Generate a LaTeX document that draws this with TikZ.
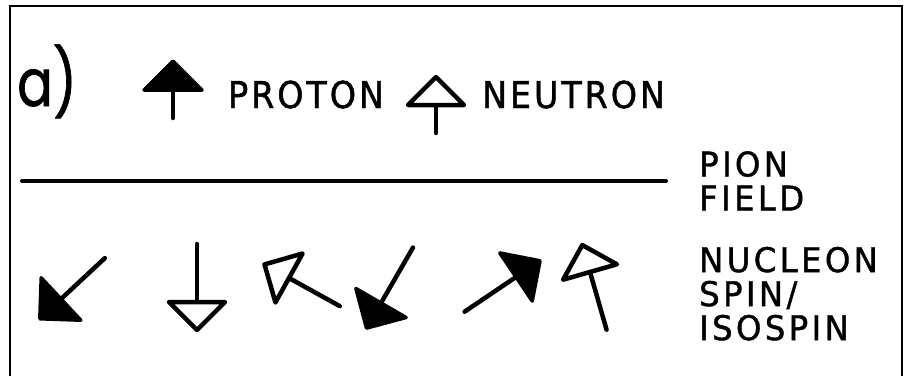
\documentclass[tikz,border=0pt]{standalone}
\usepackage{fontspec}
\setmainfont{DejaVu Sans}
\newfontfamily\letterfont{DejaVu Sans}[FakeStretch=0.9,FakeBold=1.2,LetterSpace=8]
\newfontfamily\sidefont{DejaVu Sans}[FakeStretch=0.95,FakeBold=1.2,LetterSpace=10]
\newfontfamily\partfont{Poppins}[FakeStretch=0.8,FakeBold=1]
\usetikzlibrary{positioning}
\tikzset{
  frameline/.style={line width=2pt},
  fieldline/.style={line width=4pt,line cap=round},
  spinline/.style={line width=4.5pt,line cap=round},
  fullhead/.style={line width=3.5pt,line join=round,fill=black},
  openhead/.style={line width=4.5pt,line join=round,fill=white},
  biglabel/.style={inner sep=0pt,font=\letterfont\fontsize{37}{37}\selectfont},
  sidelabel/.style={inner sep=0pt,align=left,font=\sidefont\fontsize{34}{34}\selectfont},
  pics/proton/.style={code={
    \draw[spinline] (0,0) -- (0,-#1);
    \draw[fullhead] (-29,0) -- (29,0) -- (0,29) -- cycle;
  }},
  pics/neutron/.style={code={
    \draw[spinline] (0,0) -- (0,-#1);
    \draw[openhead] (-28,0) -- (28,0) -- (0,28) -- cycle;
  }},
}

\begin{document}
\begin{tikzpicture}[x=1pt,y=1pt]
  \useasboundingbox (0,0) rectangle (907,376);
  \draw[frameline] (10,0) -- (10,370) -- (902,370) -- (902,0);
  \node[inner sep=0pt,anchor=base west,font=\partfont\fontsize{66}{66}\selectfont] (part) at (17,270) {a)};
  \pic at (173,286) {proton=28};
  \node[biglabel,anchor=base west] (ptext) at (228,268) {PROTON};
  \pic at (436,271) {neutron=28};
  \node[biglabel,anchor=base west] (ntext) at (482,268) {NEUTRON};
  \draw[fieldline] (22,195) -- (666,195);
  \node[sidelabel,anchor=north west] (pion) at (699,225) {PION\\FIELD};
  \node[sidelabel,below=36pt of pion.south west,anchor=north west] (nucleon) {NUCLEON\\SPIN/\\ISOSPIN};
  \pic[rotate=133] at (61,77) {proton=60};
  \pic[rotate=180] at (197,74) {neutron=58};
  \pic[rotate=61] at (289,98) {neutron=58};
  \pic[rotate=150] at (381,73) {proton=64};
  \pic[rotate=-56] at (516,99) {proton=62};
  \pic[rotate=16] at (590,104) {neutron=60};
\end{tikzpicture}
\end{document}
